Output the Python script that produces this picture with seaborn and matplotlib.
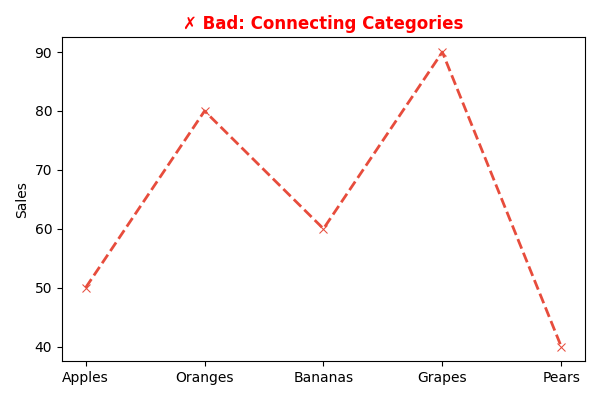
import matplotlib
matplotlib.use("Agg")
import matplotlib.pyplot as plt
import seaborn as sns
import pandas as pd

# data
fruits = ["Apples", "Oranges", "Bananas", "Grapes", "Pears"]
sales = [50, 80, 60, 90, 40]

df = pd.DataFrame({"fruit": fruits, "sales": sales})

fig, ax = plt.subplots(figsize=(6, 4), dpi=100)
sns.lineplot(data=df, x="fruit", y="sales", sort=False, ax=ax,
             color="#e74c3c", linestyle="--", linewidth=2,
             marker="x", markersize=6, markeredgecolor="#e74c3c")

ax.set_title("✗ Bad: Connecting Categories", color="red",
             fontweight="bold", fontsize=12)
ax.set_xlabel("")
ax.set_ylabel("Sales")

plt.tight_layout()
plt.savefig("out.png")
